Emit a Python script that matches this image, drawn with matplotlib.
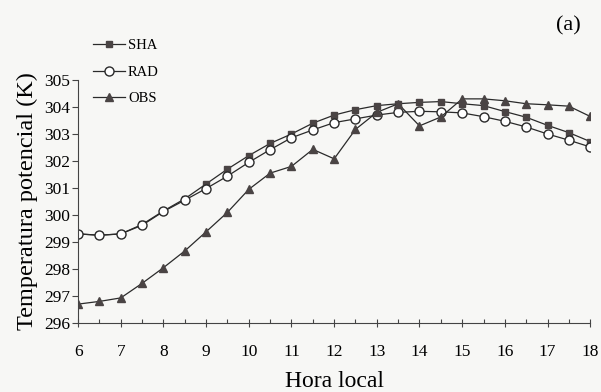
import matplotlib.pyplot as plt
import numpy as np

hora = [6, 6.5, 7, 7.5, 8, 8.5, 9, 9.5, 10, 10.5, 11, 11.5, 12,
        12.5, 13, 13.5, 14, 14.5, 15, 15.5, 16, 16.5, 17, 17.5, 18]

sha = [299.3, 299.25, 299.3, 299.65, 300.15, 300.6, 301.15, 301.7, 302.2, 302.65,
       303.0, 303.4, 303.7, 303.9, 304.05, 304.12, 304.17, 304.2, 304.12, 304.05,
       303.83, 303.62, 303.32, 303.05, 302.72]
rad = [299.3, 299.25, 299.3, 299.62, 300.13, 300.55, 300.98, 301.44, 301.95, 302.42,
       302.86, 303.15, 303.42, 303.56, 303.7, 303.8, 303.84, 303.82, 303.78, 303.64,
       303.47, 303.26, 303.0, 302.77, 302.52]
obs = [296.7, 296.8, 296.93, 297.47, 298.05, 298.67, 299.38, 300.1, 300.95, 301.55,
       301.8, 302.43, 302.08, 303.17, 303.8, 304.12, 303.3, 303.63, 304.3, 304.3,
       304.23, 304.12, 304.08, 304.03, 303.65]

plt.rcParams['font.family'] = ['Liberation Serif', 'DejaVu Serif']
bg = '#f7f7f5'
lc = '#2a2a2a'
mc = '#4a4444'

fig = plt.figure(figsize=(6.01, 3.92), dpi=100, facecolor=bg)
ax = fig.add_axes([0.13, 0.176, 0.852, 0.62], facecolor=bg)

l1, = ax.plot(hora, sha, '-s', color=lc, lw=0.9, ms=4.8, mfc=mc, mec=mc, label='SHA')
l2, = ax.plot(hora, rad, '-o', color=lc, lw=0.9, ms=6.5, mfc='white', mec=lc, mew=1.0, label='RAD')
l3, = ax.plot(hora, obs, '-^', color=lc, lw=0.9, ms=6, mfc=mc, mec=mc, label='OBS')

ax.set_xlim(6, 18)
ax.set_ylim(296, 305)
ax.set_xticks(np.arange(6, 19, 1))
ax.set_xticks(np.arange(6.5, 18, 1), minor=True)
ax.set_yticks(np.arange(296, 306, 1))
for s in ['top', 'right']:
    ax.spines[s].set_visible(False)
for s in ['left', 'bottom']:
    ax.spines[s].set_color('#444444')
    ax.spines[s].set_linewidth(0.8)
ax.tick_params(axis='x', which='major', direction='inout', length=6, width=0.8,
               labelsize=12.5, pad=12, color='#444444')
ax.tick_params(axis='x', which='minor', direction='in', length=3, width=0.8, color='#444444')
ax.tick_params(axis='y', which='major', direction='out', length=4, width=0.8,
               labelsize=12.5, pad=2, color='#444444')

ax.set_xlabel('Hora local', fontsize=17, labelpad=8)
ax.set_ylabel('Temperatura potencial (K)', fontsize=17.5, labelpad=4)

fig.legend(handles=[l1, l2, l3], loc='upper left', bbox_to_anchor=(0.145, 0.915),
           frameon=False, fontsize=10.5, handlelength=2.2, handletextpad=0.2,
           labelspacing=0.9, borderaxespad=0)
fig.text(0.945, 0.935, '(a)', fontsize=16, ha='center', va='center')

fig.savefig('out.png', dpi=100, facecolor=bg)
